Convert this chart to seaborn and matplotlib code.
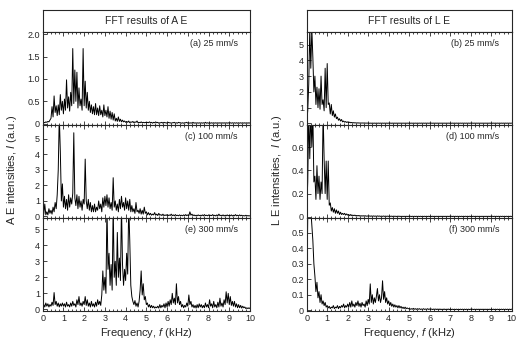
import matplotlib
matplotlib.use("Agg")
import matplotlib.pyplot as plt
import numpy as np
import seaborn as sns
from matplotlib.ticker import MultipleLocator, FuncFormatter

# frequency grid (kHz), one value every 0.05 kHz
freq = np.round(np.arange(0, 10.001, 0.05), 2)

# (a) A E, 25 mm/s
ae_25 = [0.02, 0.03, 0.02, 0.04, 0.03, 0.05, 0.04, 0.08, 0.12, 0.38, 0.15, 0.62, 0.25, 0.40, 0.18, 0.42, 0.20, 0.65, 0.30, 0.50,
         0.22, 0.55, 0.30, 0.98, 0.35, 0.60, 0.28, 0.70, 0.40, 1.68, 0.45, 1.20, 0.50, 1.15, 0.35, 0.80, 0.40, 0.55, 0.30, 1.68,
         0.40, 0.95, 0.35, 0.70, 0.30, 0.50, 0.25, 0.42, 0.22, 0.38, 0.20, 0.45, 0.20, 0.35, 0.18, 0.40, 0.20, 0.30, 0.15, 0.42,
         0.18, 0.30, 0.15, 0.38, 0.12, 0.28, 0.10, 0.25, 0.08, 0.22, 0.06, 0.12, 0.05, 0.15, 0.05, 0.10, 0.04, 0.08, 0.04, 0.06,
         0.03, 0.05, 0.03, 0.06, 0.02, 0.04, 0.03, 0.05, 0.02, 0.04, 0.03, 0.06, 0.02, 0.03, 0.02, 0.04, 0.02, 0.03, 0.02, 0.03,
         0.02, 0.03, 0.02, 0.04, 0.02, 0.03, 0.01, 0.03, 0.02, 0.04, 0.02, 0.03, 0.01, 0.02, 0.02, 0.03, 0.01, 0.03, 0.02, 0.02,
         0.01, 0.03, 0.02, 0.02, 0.01, 0.02, 0.02, 0.03, 0.01, 0.02, 0.01, 0.03, 0.02, 0.02, 0.01, 0.02, 0.01, 0.02, 0.02, 0.03,
         0.01, 0.02, 0.01, 0.02, 0.01, 0.03, 0.01, 0.02, 0.01, 0.02, 0.01, 0.02, 0.01, 0.02, 0.01, 0.02, 0.01, 0.03, 0.01, 0.02,
         0.01, 0.02, 0.01, 0.02, 0.01, 0.02, 0.01, 0.02, 0.01, 0.02, 0.01, 0.02, 0.01, 0.02, 0.01, 0.02, 0.01, 0.02, 0.01, 0.02,
         0.01, 0.02, 0.01, 0.02, 0.01, 0.02, 0.01, 0.02, 0.01, 0.02, 0.01, 0.02, 0.01, 0.02, 0.01, 0.02, 0.01, 0.02, 0.01, 0.02,
         0.01]

# (c) A E, 100 mm/s
ae_100 = [0.05, 0.15, 0.80, 0.10, 0.30, 0.10, 0.50, 0.20, 0.40, 0.15, 0.60, 0.30, 0.90, 0.50, 1.40, 3.00, 6.50, 4.20, 1.00, 2.10,
          0.60, 1.30, 0.50, 1.10, 0.40, 1.40, 0.60, 1.20, 0.80, 1.50, 5.40, 1.20, 0.70, 1.40, 0.50, 1.30, 0.60, 1.00, 0.40, 1.10,
          0.80, 3.70, 1.00, 0.50, 1.10, 0.40, 0.90, 0.30, 0.70, 0.30, 0.80, 0.30, 0.60, 0.40, 1.00, 0.50, 0.80, 0.30, 1.20, 0.60,
          1.30, 0.70, 1.40, 0.60, 1.20, 0.50, 0.90, 0.40, 2.50, 0.60, 1.00, 0.40, 0.80, 0.30, 1.10, 0.50, 1.30, 0.60, 0.90, 0.40,
          1.20, 0.50, 1.00, 0.40, 1.10, 0.30, 0.70, 0.30, 0.50, 0.20, 0.90, 0.30, 0.40, 0.20, 0.50, 0.15, 0.40, 0.15, 0.60, 0.20,
          0.30, 0.10, 0.25, 0.10, 0.20, 0.08, 0.15, 0.10, 0.25, 0.08, 0.15, 0.06, 0.20, 0.08, 0.12, 0.06, 0.15, 0.05, 0.10, 0.06,
          0.12, 0.05, 0.10, 0.06, 0.15, 0.05, 0.10, 0.04, 0.12, 0.05, 0.08, 0.04, 0.10, 0.05, 0.08, 0.04, 0.10, 0.05, 0.12, 0.05,
          0.10, 0.05, 0.30, 0.08, 0.15, 0.05, 0.10, 0.04, 0.08, 0.04, 0.10, 0.05, 0.08, 0.04, 0.10, 0.04, 0.12, 0.05, 0.08, 0.04,
          0.10, 0.04, 0.08, 0.05, 0.12, 0.04, 0.08, 0.03, 0.10, 0.04, 0.15, 0.05, 0.08, 0.04, 0.10, 0.03, 0.08, 0.04, 0.10, 0.04,
          0.08, 0.04, 0.10, 0.03, 0.08, 0.04, 0.12, 0.04, 0.08, 0.03, 0.10, 0.04, 0.08, 0.03, 0.06, 0.03, 0.08, 0.03, 0.06, 0.03,
          0.05]

# (e) A E, 300 mm/s
ae_300 = [0.10, 0.30, 0.15, 0.40, 0.20, 0.35, 0.15, 0.30, 0.20, 0.45, 0.25, 1.05, 0.30, 0.50, 0.20, 0.40, 0.15, 0.35, 0.20, 0.40,
          0.20, 0.35, 0.15, 0.45, 0.20, 0.30, 0.15, 0.40, 0.20, 0.50, 0.25, 0.35, 0.15, 0.60, 0.30, 0.80, 0.25, 0.40, 0.20, 0.50,
          0.30, 0.80, 0.25, 0.60, 0.20, 0.40, 0.15, 0.50, 0.20, 0.35, 0.15, 0.45, 0.20, 0.60, 0.30, 0.50, 0.25, 0.90, 2.40, 1.20,
          2.00, 1.00, 6.50, 2.50, 3.50, 1.50, 2.80, 1.20, 6.50, 2.00, 3.00, 1.50, 4.80, 2.00, 3.20, 1.80, 6.50, 2.80, 1.50, 2.50,
          1.80, 3.50, 2.20, 6.50, 4.30, 1.50, 0.80, 0.50, 0.30, 0.55, 0.20, 0.40, 0.15, 0.50, 1.20, 2.40, 0.90, 1.60, 0.60, 0.80,
          0.30, 0.40, 0.15, 0.30, 0.10, 0.25, 0.10, 0.20, 0.08, 0.15, 0.10, 0.20, 0.08, 0.30, 0.10, 0.25, 0.15, 0.35, 0.10, 0.40,
          0.15, 0.50, 0.20, 0.60, 0.30, 1.00, 0.40, 0.70, 0.30, 1.60, 0.40, 0.80, 0.30, 0.50, 0.15, 0.30, 0.10, 0.25, 0.15, 0.40,
          0.20, 0.90, 0.30, 0.50, 0.15, 0.30, 0.10, 0.25, 0.08, 0.30, 0.10, 0.35, 0.15, 0.30, 0.10, 0.25, 0.10, 0.40, 0.15, 0.30,
          0.10, 0.60, 0.20, 0.35, 0.10, 0.50, 0.15, 0.30, 0.10, 0.45, 0.15, 0.70, 0.20, 0.40, 0.15, 0.60, 0.30, 1.10, 0.40, 1.00,
          0.30, 0.80, 0.25, 0.50, 0.20, 0.50, 0.15, 0.35, 0.10, 0.30, 0.10, 0.25, 0.08, 0.20, 0.10, 0.15, 0.05, 0.10, 0.05, 0.10,
          0.05]

# (b) L E, 25 mm/s
le_25 = [0.10, 0.80, 2.50, 6.00, 3.50, 6.00, 4.20, 2.00, 3.00, 1.20, 2.30, 1.00, 2.20, 0.90, 3.00, 1.20, 1.50, 0.80, 3.50, 1.00,
         3.80, 1.20, 1.30, 0.60, 1.20, 0.50, 0.80, 0.40, 0.60, 0.30, 0.40, 0.20, 0.30, 0.15, 0.25, 0.10, 0.15, 0.08, 0.12, 0.06,
         0.10, 0.05, 0.08, 0.04, 0.06, 0.03, 0.05, 0.03, 0.04, 0.02, 0.04, 0.02, 0.03, 0.02, 0.03, 0.02, 0.03, 0.02, 0.02, 0.02,
         0.02, 0.01, 0.02, 0.01, 0.02, 0.01, 0.02, 0.01, 0.02, 0.01, 0.02, 0.01, 0.02, 0.01, 0.02, 0.01, 0.02, 0.01, 0.02, 0.01,
         0.02, 0.01, 0.02, 0.01, 0.02, 0.01, 0.02, 0.01, 0.02, 0.01, 0.02, 0.01, 0.02, 0.01, 0.02, 0.01, 0.02, 0.01, 0.02, 0.01,
         0.02, 0.01, 0.02, 0.01, 0.02, 0.01, 0.02, 0.01, 0.02, 0.01, 0.02, 0.01, 0.02, 0.01, 0.02, 0.01, 0.02, 0.01, 0.02, 0.01,
         0.02, 0.01, 0.02, 0.01, 0.02, 0.01, 0.02, 0.01, 0.02, 0.01, 0.02, 0.01, 0.02, 0.01, 0.02, 0.01, 0.02, 0.01, 0.02, 0.01,
         0.02, 0.01, 0.02, 0.01, 0.02, 0.01, 0.02, 0.01, 0.02, 0.01, 0.02, 0.01, 0.02, 0.01, 0.02, 0.01, 0.02, 0.01, 0.02, 0.01,
         0.02, 0.01, 0.02, 0.01, 0.02, 0.01, 0.02, 0.01, 0.02, 0.01, 0.02, 0.01, 0.02, 0.01, 0.02, 0.01, 0.02, 0.01, 0.02, 0.01,
         0.02, 0.01, 0.02, 0.01, 0.02, 0.01, 0.02, 0.01, 0.02, 0.01, 0.02, 0.01, 0.02, 0.01, 0.02, 0.01, 0.02, 0.01, 0.02, 0.01,
         0.02]

# (d) L E, 100 mm/s
le_100 = [0.05, 0.30, 0.90, 0.50, 0.90, 0.60, 0.90, 0.30, 0.35, 0.15, 0.44, 0.20, 0.35, 0.15, 0.30, 0.20, 0.90, 0.50, 0.20, 0.48,
          0.15, 0.48, 0.10, 0.12, 0.05, 0.08, 0.04, 0.07, 0.03, 0.06, 0.03, 0.05, 0.02, 0.04, 0.02, 0.03, 0.02, 0.03, 0.015, 0.025,
          0.015, 0.02, 0.01, 0.02, 0.01, 0.015, 0.01, 0.015, 0.008, 0.012, 0.008, 0.012, 0.006, 0.01, 0.006, 0.01, 0.006, 0.01, 0.005, 0.008,
          0.005, 0.008, 0.005, 0.008, 0.004, 0.008, 0.005, 0.007, 0.004, 0.008, 0.005, 0.007, 0.004, 0.006, 0.004, 0.007, 0.004, 0.006, 0.004, 0.006,
          0.004, 0.006, 0.004, 0.006, 0.003, 0.006, 0.004, 0.005, 0.003, 0.006, 0.004, 0.005, 0.003, 0.005, 0.003, 0.005, 0.003, 0.005, 0.003, 0.005,
          0.003, 0.005, 0.003, 0.005, 0.003, 0.005, 0.003, 0.005, 0.003, 0.005, 0.003, 0.005, 0.003, 0.005, 0.003, 0.005, 0.003, 0.005, 0.003, 0.005,
          0.003, 0.005, 0.003, 0.005, 0.003, 0.005, 0.003, 0.005, 0.003, 0.005, 0.003, 0.005, 0.003, 0.005, 0.003, 0.005, 0.003, 0.005, 0.003, 0.005,
          0.003, 0.005, 0.003, 0.005, 0.003, 0.005, 0.003, 0.005, 0.003, 0.005, 0.003, 0.005, 0.003, 0.005, 0.003, 0.005, 0.003, 0.005, 0.003, 0.005,
          0.003, 0.005, 0.003, 0.005, 0.003, 0.005, 0.003, 0.005, 0.003, 0.005, 0.003, 0.005, 0.003, 0.005, 0.003, 0.005, 0.003, 0.005, 0.003, 0.005,
          0.003, 0.005, 0.003, 0.005, 0.003, 0.005, 0.003, 0.005, 0.003, 0.005, 0.003, 0.005, 0.003, 0.005, 0.003, 0.005, 0.003, 0.005, 0.003, 0.005,
          0.003]

# (f) L E, 300 mm/s
le_300 = [0.05, 0.60, 0.65, 0.65, 0.65, 0.55, 0.45, 0.30, 0.22, 0.12, 0.18, 0.08, 0.12, 0.05, 0.10, 0.04, 0.06, 0.03, 0.05, 0.02,
          0.03, 0.015, 0.025, 0.01, 0.02, 0.015, 0.03, 0.01, 0.02, 0.015, 0.03, 0.01, 0.025, 0.015, 0.03, 0.02, 0.04, 0.015, 0.03, 0.02,
          0.04, 0.02, 0.05, 0.02, 0.06, 0.025, 0.04, 0.02, 0.05, 0.03, 0.06, 0.025, 0.045, 0.02, 0.05, 0.03, 0.04, 0.02, 0.06, 0.03,
          0.07, 0.04, 0.17, 0.05, 0.10, 0.04, 0.08, 0.05, 0.09, 0.14, 0.06, 0.10, 0.05, 0.08, 0.19, 0.07, 0.12, 0.05, 0.08, 0.04,
          0.06, 0.03, 0.05, 0.025, 0.04, 0.02, 0.035, 0.02, 0.03, 0.015, 0.03, 0.015, 0.025, 0.012, 0.02, 0.01, 0.02, 0.01, 0.015, 0.01,
          0.01, 0.006, 0.01, 0.006, 0.012, 0.006, 0.01, 0.005, 0.01, 0.006, 0.01, 0.005, 0.008, 0.005, 0.01, 0.005, 0.008, 0.005, 0.01, 0.005,
          0.008, 0.005, 0.008, 0.004, 0.008, 0.005, 0.008, 0.004, 0.008, 0.004, 0.008, 0.004, 0.007, 0.004, 0.008, 0.004, 0.007, 0.004, 0.008, 0.004,
          0.007, 0.004, 0.007, 0.004, 0.007, 0.004, 0.007, 0.004, 0.007, 0.004, 0.007, 0.004, 0.007, 0.004, 0.007, 0.004, 0.007, 0.004, 0.007, 0.004,
          0.007, 0.004, 0.007, 0.004, 0.007, 0.004, 0.007, 0.004, 0.007, 0.004, 0.007, 0.004, 0.007, 0.004, 0.007, 0.004, 0.007, 0.004, 0.007, 0.004,
          0.007, 0.004, 0.007, 0.004, 0.007, 0.004, 0.007, 0.004, 0.007, 0.004, 0.007, 0.004, 0.007, 0.004, 0.007, 0.004, 0.007, 0.004, 0.007, 0.004,
          0.007]

left_panels = [(ae_25, "(a) 25 mm/s", (-0.03, 2.05), 0.5),
               (ae_100, "(c) 100 mm/s", (-0.1, 5.9), 1),
               (ae_300, "(e) 300 mm/s", (-0.1, 5.7), 1)]
right_panels = [(le_25, "(b) 25 mm/s", (-0.1, 5.8), 1),
                (le_100, "(d) 100 mm/s", (-0.01, 0.79), 0.2),
                (le_300, "(f) 300 mm/s", (-0.005, 0.595), 0.1)]

sns.set_style("ticks")
plt.rcParams['font.family'] = ['Liberation Sans', 'DejaVu Sans']
plt.rcParams['mathtext.fontset'] = 'custom'
plt.rcParams['mathtext.it'] = 'Liberation Sans:italic'
plt.rcParams['mathtext.rm'] = 'Liberation Sans'

fig = plt.figure(figsize=(5.18, 3.39), dpi=100)

W, H = 518, 339


def make_fmt(step):
    def fmt(v, pos):
        if abs(v) < 1e-9:
            return "0"
        return "%.1f" % v if step < 1 else "%d" % round(v)
    return FuncFormatter(fmt)


def draw_column(x0, w, title, panels, ylabel, ylab_x):
    # title box
    tax = fig.add_axes([x0 / W, 1 - 32 / H, w / W, 22 / H])
    tax.set_xticks([])
    tax.set_yticks([])
    tax.text(0.5, 0.5, title, ha='center', va='center', fontsize=7.5, transform=tax.transAxes)
    for s in tax.spines.values():
        s.set_linewidth(0.8)
    tops = [32, 125, 218]
    for i, (vals, lab, ylim, step) in enumerate(panels):
        ax = fig.add_axes([x0 / W, 1 - (tops[i] + 93) / H, w / W, 93 / H])
        sns.lineplot(x=freq, y=vals, ax=ax, color='black', linewidth=0.7, estimator=None)
        ax.set_xlim(0, 10)
        ax.set_ylim(*ylim)
        ax.yaxis.set_major_locator(MultipleLocator(step))
        ax.yaxis.set_major_formatter(make_fmt(step))
        ax.xaxis.set_major_locator(MultipleLocator(1))
        ax.xaxis.set_minor_locator(MultipleLocator(0.2))
        ax.tick_params(direction='in', top=True, which='both', labelsize=6.5, pad=2, width=0.6)
        ax.tick_params(which='major', length=3)
        ax.tick_params(which='minor', length=1.5)
        ax.set_xlabel("")
        ax.set_ylabel("")
        for s in ax.spines.values():
            s.set_linewidth(0.8)
        ax.text(0.94, 0.88, lab, ha='right', va='center', fontsize=6.5, transform=ax.transAxes)
        if i < 2:
            ax.set_xticklabels([])
        else:
            ax.set_xlabel("Frequency, $\\it{f}$ (kHz)", fontsize=8, labelpad=2)
    fig.text(ylab_x / W, 0.5, ylabel, rotation=90, ha='center', va='center', fontsize=8)


draw_column(42.7, 207.3, "FFT results of A E", left_panels, "A E intensities, $\\it{I}$ (a.u.)", 12)
draw_column(306.7, 205, "FFT results of L E", right_panels, "L E intensities,  $\\it{I}$ (a.u.)", 277)

fig.savefig("out.png", dpi=100)
